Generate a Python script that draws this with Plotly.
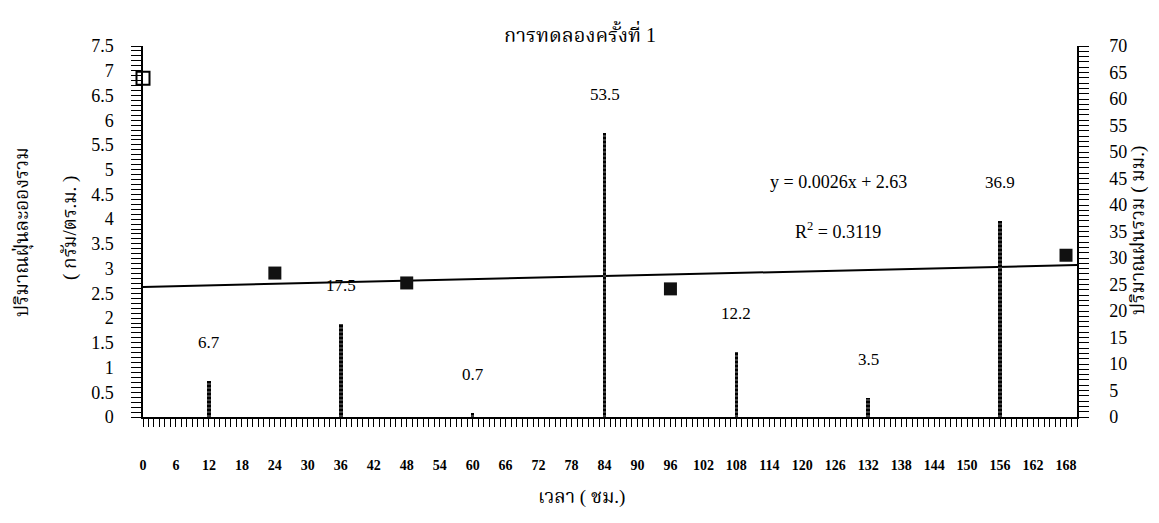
import plotly.graph_objects as go

# ---- text ----
title_text = "การทดลองครั้งที่ 1"
left_title_1 = "ปริมาณฝุ่นละอองรวม"
left_title_2 = "( กรัม/ตร.ม. )"
right_title = "ปริมาณฝนรวม ( มม.)"
x_title = "เวลา ( ชม.)"
eq_text = "y = 0.0026x + 2.63"
r2_text = "R<sup>2</sup> = 0.3119"

# ---- data ----
rain_hours = [12, 36, 60, 84, 108, 132, 156]
rain_mm = [6.7, 17.5, 0.7, 53.5, 12.2, 3.5, 36.9]

dust_hours_open = [0]
dust_open = [6.85]
dust_hours = [24, 48, 96, 168]
dust = [2.91, 2.71, 2.59, 3.27]

trend_slope = 0.0026
trend_intercept = 2.63
trend_x = [0, 170]

x_ticks = list(range(0, 169, 6))
left_ticks = [i * 0.5 for i in range(16)]
right_ticks = list(range(0, 71, 5))

SERIF = "'Liberation Serif', 'Times New Roman', 'Noto Serif Thai', serif"

fig = go.Figure()

fig.add_trace(go.Bar(
    x=rain_hours, y=rain_mm, yaxis="y2", width=0.65,
    marker=dict(color="black", line=dict(width=0),
                pattern=dict(shape="-", fgcolor="white", bgcolor="black",
                             size=4, solidity=0.25)),
    showlegend=False, hoverinfo="x+y",
))

fig.add_trace(go.Scatter(
    x=trend_x, y=[trend_intercept + trend_slope * v for v in trend_x],
    mode="lines", line=dict(color="black", width=2), showlegend=False,
))

fig.add_trace(go.Scatter(
    x=dust_hours_open, y=dust_open, mode="markers",
    marker=dict(symbol="square-open", size=13, color="black",
                line=dict(width=2, color="black")),
    showlegend=False, cliponaxis=False,
))
fig.add_trace(go.Scatter(
    x=dust_hours, y=dust, mode="markers",
    marker=dict(symbol="square", size=13, color="#111111"),
    showlegend=False, cliponaxis=False,
))

annotations = []
for h, v in zip(rain_hours, rain_mm):
    annotations.append(dict(x=h, y=v, xref="x", yref="y2", text=f"{v}",
                            showarrow=False, yshift=39,
                            xanchor="center", yanchor="middle",
                            font=dict(family=SERIF, size=17, color="black")))

# free text: centre positions in reference pixels
free_text = [
    (580, 33, title_text, 20, 0),
    (838, 182, eq_text, 18, 0),
    (838, 230, r2_text, 18, 0),
    (22, 232, left_title_1, 19, -90),
    (70, 228, left_title_2, 19, -90),
    (1138, 231, right_title, 19, -90),
    (581, 497, x_title, 19, 0),
]

W, H = 1159, 523
OFF = 8  # page body margin of the html page
PL, PR, PT, PB = 143, 1077, 46, 417  # plot area in reference pixels
L, T = PL - OFF, PT - OFF
R, B = W - PR + OFF, H - PB + OFF
pw, ph = PR - PL, PB - PT
for px, py, txt, sz, ang in free_text:
    annotations.append(dict(
        x=(px - PL) / pw, y=(PB - py) / ph, xref="paper", yref="paper",
        text=txt, showarrow=False, textangle=ang,
        xanchor="center", yanchor="middle",
        font=dict(family=SERIF, size=sz, color="black")))

fig.update_layout(
    width=W, height=H,
    margin=dict(l=L, r=R, t=T, b=B),
    plot_bgcolor="white", paper_bgcolor="white",
    bargap=0,
    annotations=annotations,
    font=dict(family=SERIF, color="black"),
    xaxis=dict(
        range=[0, 170], tickvals=x_ticks, ticktext=[str(t) for t in x_ticks],
        showgrid=False, zeroline=False, showline=True, linecolor="black", linewidth=1.5,
        ticks="outside", ticklen=8, tickcolor="black", tickwidth=1,
        minor=dict(dtick=1, ticks="outside", ticklen=8, tickcolor="black", tickwidth=1),
        tickfont=dict(family=SERIF, size=14, color="black", weight="bold"),
        ticklabelstandoff=26,
    ),
    yaxis=dict(
        range=[0, 7.5], tickvals=left_ticks, ticktext=[f"{t:g}" for t in left_ticks],
        showgrid=False, zeroline=False, showline=True, linecolor="black", linewidth=1.5,
        ticks="outside", ticklen=10, tickcolor="black", tickwidth=1,
        minor=dict(dtick=0.1, ticks="outside", ticklen=10, tickcolor="black", tickwidth=1),
        tickfont=dict(family=SERIF, size=18, color="black"),
        ticklabelstandoff=14,
    ),
    yaxis2=dict(
        range=[0, 70], tickvals=right_ticks, overlaying="y", side="right",
        showgrid=False, zeroline=False, showline=True, linecolor="black", linewidth=1.5,
        ticks="outside", ticklen=10, tickcolor="black", tickwidth=1,
        minor=dict(dtick=1, ticks="outside", ticklen=10, tickcolor="black", tickwidth=1),
        tickfont=dict(family=SERIF, size=18, color="black"),
        ticklabelstandoff=17,
    ),
)

fig.write_html("out.html")
